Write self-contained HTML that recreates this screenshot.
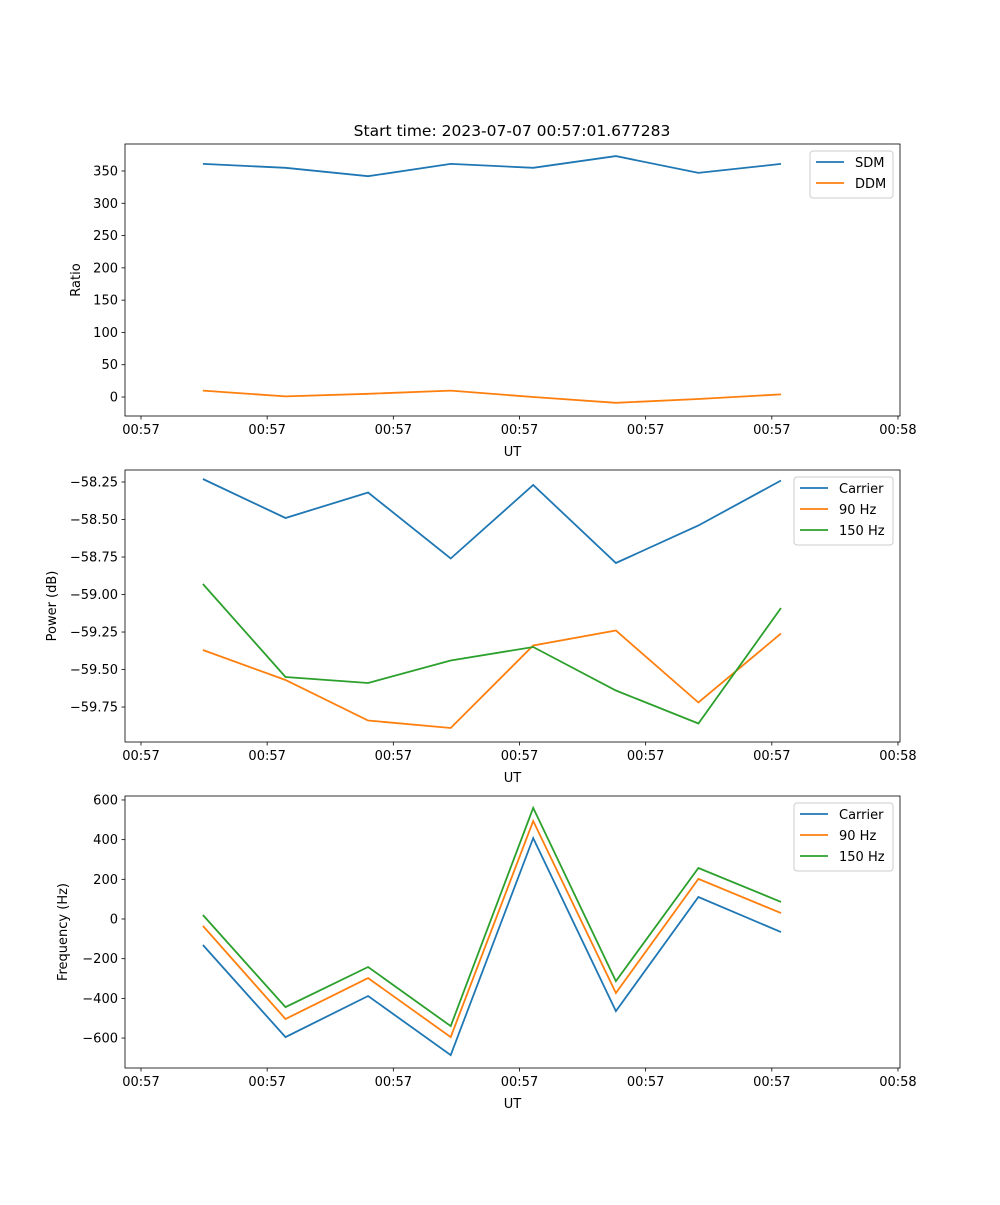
<!DOCTYPE html>
<html><head><meta charset="utf-8"><style>
body{margin:0;background:#fff}
svg text{font-family:"DejaVu Sans","Liberation Sans",sans-serif;font-size:13px;fill:#000}
</style></head><body>
<svg id="fig" width="1000" height="1200" xmlns="http://www.w3.org/2000/svg"></svg>
<script>
const times = [4.91, 11.45, 18.0, 24.55, 31.09, 37.64, 44.18, 50.73];
const xTickVals = [0, 10, 20, 30, 40, 50, 60];
const xTickLabels = ["00:57","00:57","00:57","00:57","00:57","00:57","00:58"];
const sdm = [361, 355, 342, 361, 355, 373, 347, 361];
const ddm = [10, 1, 5, 10, 0, -9, -3, 4];
const powCarrier = [-58.23, -58.49, -58.32, -58.76, -58.27, -58.79, -58.54, -58.24];
const pow90 = [-59.37, -59.57, -59.84, -59.89, -59.34, -59.24, -59.72, -59.26];
const pow150 = [-58.93, -59.55, -59.59, -59.44, -59.35, -59.64, -59.86, -59.09];
const freqCarrier = [-131, -595, -388, -686, 408, -464, 111, -66];
const freq90 = [-35, -504, -298, -595, 494, -373, 202, 30];
const freq150 = [20, -444, -242, -540, 560, -313, 257, 86];
const ratioTicks = [0, 50, 100, 150, 200, 250, 300, 350];
const powTicks = [-58.25, -58.5, -58.75, -59.0, -59.25, -59.5, -59.75];
const freqTicks = [600, 400, 200, 0, -200, -400, -600];

const NS = "http://www.w3.org/2000/svg";
const svg = document.getElementById("fig");
function el(tag, attrs, parent, txt){
  const e = document.createElementNS(NS, tag);
  for (const k in attrs) e.setAttribute(k, attrs[k]);
  if (txt !== undefined) e.textContent = txt;
  (parent || svg).appendChild(e);
  return e;
}
const L = 125, R = 900, tmin = -1.268, tmax = 60.16;
const xs = t => L + (t - tmin) / (tmax - tmin) * (R - L);
const C = ["#1f77b4", "#ff7f0e", "#2ca02c"];
function fmt(v, dec){ const s = Math.abs(v).toFixed(dec); return (v < 0 ? "\u2212" : "") + s; }

function panel(name, top, ymin, ymax, ticks, dec, ylabel, series, names, legend){
  const bot = top + 272;
  const ys = v => bot - (v - ymin) / (ymax - ymin) * 272;
  const g = el("g", {});
  
  
  series.forEach((s, i) => {
    const p = el("polyline", {points: s.map((v, j) => xs(times[j]).toFixed(1) + "," + ys(v).toFixed(1)).join(" "), fill: "none", stroke: C[i], "stroke-width": 1.8}, g);
    
    
  });
  const f = el("rect", {x: L, y: top, width: R - L, height: 272, fill: "none", stroke: "#000", "stroke-width": 0.8}, g);
  
  
  xTickVals.forEach((t, i) => {
    const x = xs(t);
    el("line", {x1: x, x2: x, y1: bot, y2: bot + 3.5, stroke: "#000", "stroke-width": 0.8}, g);
    const tl = el("text", {x: x, y: bot + 18, "text-anchor": "middle"}, g, xTickLabels[i]);
    
    
  });
  ticks.forEach(v => {
    const y = ys(v);
    el("line", {x1: L - 3.5, x2: L, y1: y, y2: y, stroke: "#000", "stroke-width": 0.8}, g);
    const tl = el("text", {x: L - 7, y: y + 4.5, "text-anchor": "end"}, g, fmt(v, dec));
    
    
  });
  const xl = el("text", {x: (L + R) / 2, y: bot + 40, "text-anchor": "middle"}, g, "UT");
  
  
  const yl = el("text", {x: legend.yx, y: top + 136, "text-anchor": "middle", transform: `rotate(-90 ${legend.yx} ${top + 136})`}, g, ylabel);
  
  
  const lg = el("g", {}, g);
  
  
  el("rect", {x: legend.x, y: top + 7, width: R - 7 - legend.x, height: 5 + names.length * 21, rx: 3, fill: "#fff", "fill-opacity": 0.8, stroke: "#ccc", "stroke-width": 1}, lg);
  names.forEach((n, i) => {
    const y = top + 18 + i * 21;
    el("line", {x1: legend.x + 6, x2: legend.x + 34, y1: y, y2: y, stroke: C[i], "stroke-width": 1.8}, lg);
    const t = el("text", {x: legend.x + 45, y: y + 5}, lg, n);
    
    
  });
}
panel("ratio", 144, -29.4, 391.8, ratioTicks, 0, "Ratio", [sdm, ddm], ["SDM", "DDM"], {x: 810, yx: 80});
panel("power", 470, -59.983, -58.17, powTicks, 2, "Power (dB)", [powCarrier, pow90, pow150], ["Carrier", "90 Hz", "150 Hz"], {x: 794, yx: 56});
panel("frequency", 796, -751, 620, freqTicks, 0, "Frequency (Hz)", [freqCarrier, freq90, freq150], ["Carrier", "90 Hz", "150 Hz"], {x: 794, yx: 67});
const title = el("text", {x: 512, y: 136, "text-anchor": "middle", style: "font-size:15.5px"}, svg, "Start time: 2023-07-07 00:57:01.677283");


</script>
</body></html>
